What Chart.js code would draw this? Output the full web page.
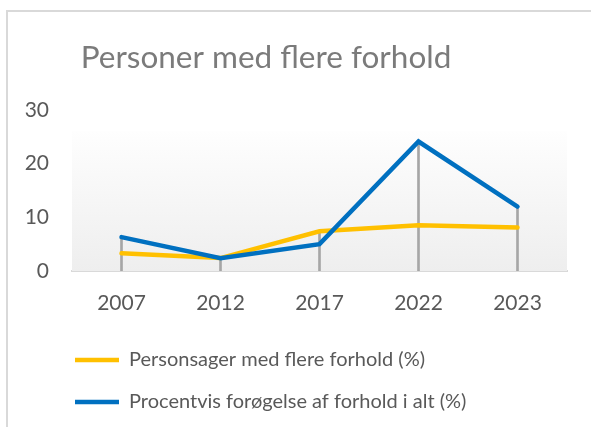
<!DOCTYPE html>
<html>
<head>
<meta charset="utf-8">
<script src="https://cdn.jsdelivr.net/npm/chart.js@4/dist/chart.umd.min.js"></script>
<style>
    html, body { margin: 0; padding: 0; background: #ffffff; overflow: hidden; }
    #wrap { position: relative; width: 591px; height: 427px; overflow: hidden; }
    #frame {
        position: absolute; left: 6px; top: 10px; width: 700px; height: 500px;
        border: 2px solid #d9d9d9; box-sizing: border-box;
    }
    #chart { position: absolute; left: 0; top: 0; }
</style>
</head>
<body>
<div id="wrap">
    <div id="frame"></div>
    <canvas id="chart" width="591" height="427"></canvas>
</div>
<script>
(function () {
    'use strict';

    // ── 資料 ──────────────────────────────────────────────────────────────────
    var years       = ['2007', '2012', '2017', '2022', '2023'];
    var personsager = [3.3, 2.4, 7.4, 8.5, 8.1];
    var forogelse   = [6.3, 2.4, 5.0, 24.1, 12.0];
    var yTicks      = [0, 10, 20, 30];

    var TITLE   = 'Personer med flere forhold';
    var LABEL_A = 'Personsager med flere forhold (%)';
    var LABEL_B = 'Procentvis forøgelse af forhold i alt (%)';

    // drop lines go from the higher of the two points down to the axis
    var dropTops = years.map(function (_, i) { return Math.max(personsager[i], forogelse[i]); });

    var FONT = 'Lato, "Open Sans", sans-serif';

    // ── 背景漸層 + 標題位置 ───────────────────────────────────────────────────
    var plotBg = {
        id: 'plotBg',
        afterLayout: function (chart) {
            // title sits a bit left of centre in the original
            if (chart.titleBlock) { chart.titleBlock.left = 0; chart.titleBlock.right = 532; }
            if (chart.legend) { chart.legend.left = 53; }
        },
        beforeDatasetsDraw: function (chart) {
            var a = chart.chartArea, ctx = chart.ctx;
            var top = a.top + 21;
            var g = ctx.createLinearGradient(0, top, 0, a.bottom);
            g.addColorStop(0, '#fefefe');
            g.addColorStop(1, '#eeeeee');
            ctx.save();
            ctx.fillStyle = g;
            ctx.fillRect(a.left, top, a.right - a.left, a.bottom - top);
            ctx.restore();
        }
    };

    new Chart(document.getElementById('chart').getContext('2d'), {
        type: 'line',
        data: {
            labels: years,
            datasets: [{
                label: LABEL_A,
                data: personsager,
                borderColor: '#ffc000',
                backgroundColor: '#ffc000',
                borderWidth: 4.5,
                borderCapStyle: 'round',
                pointRadius: 0,
                tension: 0,
                order: 2
            }, {
                label: LABEL_B,
                data: forogelse,
                borderColor: '#0070c0',
                backgroundColor: '#0070c0',
                borderWidth: 4.5,
                borderCapStyle: 'round',
                pointRadius: 0,
                tension: 0,
                order: 1
            }, {
                type: 'bar',
                label: 'drop',
                data: dropTops,
                backgroundColor: '#a6a6a6',
                barThickness: 2,
                order: 3
            }]
        },
        options: {
            responsive: false,
            animation: false,
            layout: { padding: { left: 0, right: 24, top: 39, bottom: 5 } },
            plugins: {
                title: {
                    display: true,
                    text: TITLE,
                    color: '#7b7b7b',
                    font: { family: FONT, size: 31.5, weight: 'normal' },
                    padding: { top: 0, bottom: 33 }
                },
                legend: {
                    position: 'bottom',
                    align: 'start',
                    labels: {
                        color: '#595959',
                        font: { family: FONT, size: 20 },
                        usePointStyle: true,
                        pointStyle: 'line',
                        pointStyleWidth: 44,
                        padding: 22,
                        filter: function (item) { return item.text !== 'drop'; },
                        sort: function (a, b) { return a.datasetIndex - b.datasetIndex; }
                    }
                },
                tooltip: { enabled: false }
            },
            scales: {
                x: {
                    offset: true,
                    grid: { display: false, drawTicks: false },
                    border: { display: true, color: '#d9d9d9', width: 2 },
                    ticks: {
                        color: '#595959',
                        font: { family: FONT, size: 21 },
                        padding: 20
                    },
                    afterFit: function (s) { s.height = 57; }
                },
                y: {
                    min: 0,
                    max: 30,
                    afterBuildTicks: function (s) {
                        s.ticks = yTicks.map(function (v) { return { value: v }; });
                    },
                    grid: { display: false, drawTicks: false },
                    border: { display: false },
                    ticks: {
                        color: '#595959',
                        font: { family: FONT, size: 21 },
                        padding: 23
                    },
                    afterFit: function (s) { s.width = 72; }
                }
            }
        },
        plugins: [plotBg]
    });
})();
</script>
</body>
</html>
